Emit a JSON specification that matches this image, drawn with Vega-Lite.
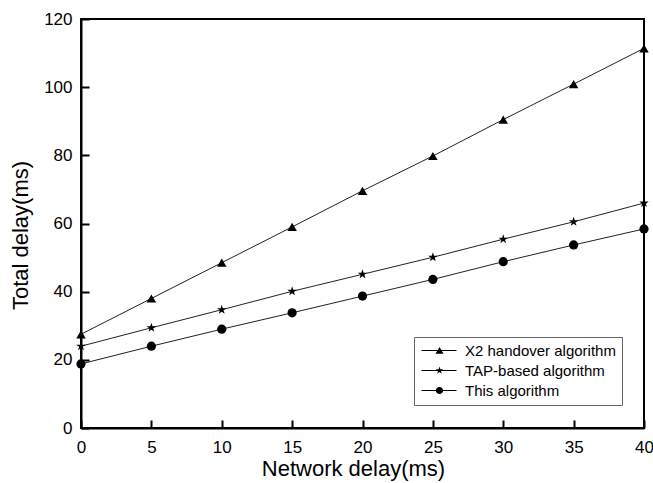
{
  "$schema": "https://vega.github.io/schema/vega-lite/v6.json",
  "width": 563,
  "height": 409,
  "autosize": "none",
  "padding": {"left": 81, "top": 19, "right": 9, "bottom": 55},
  "background": "white",
  "config": {
    "font": "Liberation Sans",
    "view": {"stroke": "black", "strokeWidth": 2},
    "axis": {"grid": false, "domainColor": "black", "domainWidth": 2, "tickColor": "black", "tickWidth": 2, "labelColor": "black", "titleColor": "black", "labelFont": "Liberation Sans", "titleFont": "Liberation Sans", "titleFontWeight": "normal"}
  },
  "data": {
    "values": [
      {"delay": 0, "total": 27.5, "series": "X2 handover algorithm"},
      {"delay": 5, "total": 38, "series": "X2 handover algorithm"},
      {"delay": 10, "total": 48.5, "series": "X2 handover algorithm"},
      {"delay": 15, "total": 59, "series": "X2 handover algorithm"},
      {"delay": 20, "total": 69.6, "series": "X2 handover algorithm"},
      {"delay": 25, "total": 79.8, "series": "X2 handover algorithm"},
      {"delay": 30, "total": 90.5, "series": "X2 handover algorithm"},
      {"delay": 35, "total": 100.9, "series": "X2 handover algorithm"},
      {"delay": 40, "total": 111.4, "series": "X2 handover algorithm"},
      {"delay": 0, "total": 24, "series": "TAP-based algorithm"},
      {"delay": 5, "total": 29.4, "series": "TAP-based algorithm"},
      {"delay": 10, "total": 34.7, "series": "TAP-based algorithm"},
      {"delay": 15, "total": 40.1, "series": "TAP-based algorithm"},
      {"delay": 20, "total": 45.1, "series": "TAP-based algorithm"},
      {"delay": 25, "total": 50.1, "series": "TAP-based algorithm"},
      {"delay": 30, "total": 55.4, "series": "TAP-based algorithm"},
      {"delay": 35, "total": 60.5, "series": "TAP-based algorithm"},
      {"delay": 40, "total": 66, "series": "TAP-based algorithm"},
      {"delay": 0, "total": 18.8, "series": "This algorithm"},
      {"delay": 5, "total": 24, "series": "This algorithm"},
      {"delay": 10, "total": 29, "series": "This algorithm"},
      {"delay": 15, "total": 33.8, "series": "This algorithm"},
      {"delay": 20, "total": 38.7, "series": "This algorithm"},
      {"delay": 25, "total": 43.6, "series": "This algorithm"},
      {"delay": 30, "total": 48.8, "series": "This algorithm"},
      {"delay": 35, "total": 53.7, "series": "This algorithm"},
      {"delay": 40, "total": 58.4, "series": "This algorithm"}
    ]
  },
  "encoding": {
    "x": {
      "field": "delay", "type": "quantitative",
      "scale": {"domain": [0, 40], "nice": false},
      "axis": {"title": "Network delay(ms)", "values": [0, 5, 10, 15, 20, 25, 30, 35, 40], "tickSize": -8, "labelPadding": 19, "labelFontSize": 17, "titleFontSize": 22, "titleX": 272, "titleY": 47, "titleBaseline": "alphabetic", "titleAlign": "center", "labelFlush": false}
    },
    "y": {
      "field": "total", "type": "quantitative",
      "scale": {"domain": [0, 120], "nice": false},
      "axis": {"title": "Total delay(ms)", "values": [0, 20, 40, 60, 80, 100, 120], "tickSize": -8, "labelPadding": 17, "labelFontSize": 17, "titleFontSize": 22, "titleAngle": -90, "titleX": -54, "titleY": 216, "titleBaseline": "alphabetic", "titleAlign": "center", "labelFlush": false}
    }
  },
  "layer": [
    {
      "mark": {"type": "line", "stroke": "#222222", "strokeWidth": 1, "clip": false},
      "encoding": {"detail": {"field": "series"}}
    },
    {
      "transform": [{"filter": "datum.series === 'X2 handover algorithm'"}],
      "mark": {"type": "point", "shape": "triangle-up", "filled": true, "color": "black", "opacity": 1, "size": 90, "clip": false}
    },
    {
      "transform": [{"filter": "datum.series === 'TAP-based algorithm'"}],
      "mark": {"type": "point", "shape": "M0,-1.05L0.236,-0.324L0.999,-0.324L0.381,0.124L0.617,0.849L0,0.401L-0.617,0.849L-0.381,0.124L-0.999,-0.324L-0.236,-0.324Z", "filled": true, "color": "black", "opacity": 1, "size": 90, "clip": false}
    },
    {
      "transform": [{"filter": "datum.series === 'This algorithm'"}],
      "mark": {"type": "point", "shape": "circle", "filled": true, "color": "black", "opacity": 1, "size": 85, "clip": false}
    },
    {
      "mark": {"type": "point", "filled": true, "fill": "black", "stroke": "black", "strokeWidth": 1, "opacity": 0, "size": 64, "clip": false},
      "encoding": {
        "shape": {
          "field": "series", "type": "nominal",
          "scale": {
            "domain": ["X2 handover algorithm", "TAP-based algorithm", "This algorithm"],
            "range": [
              "M-1.5,-0.12H7.25V0.12H-1.5ZM3,-0.9L4,0.8L2,0.8Z",
              "M-1.5,-0.12H7.25V0.12H-1.5ZM3,-1L3.225,-0.309L3.951,-0.309L3.363,0.118L3.588,0.809L3,0.382L2.412,0.809L2.637,0.118L2.049,-0.309L2.775,-0.309Z",
              "M-1.5,-0.12H7.25V0.12H-1.5ZM2.1,0A0.9,0.9,0,1,1,3.9,0A0.9,0.9,0,1,1,2.1,0Z"
            ]
          },
          "legend": {
            "title": null,
            "orient": "none",
            "legendX": 333,
            "legendY": 318,
            "strokeColor": "#666666",
            "fillColor": "white",
            "padding": 6,
            "rowPadding": 4,
            "symbolSize": 64,
            "symbolOpacity": 1,
            "symbolFillColor": "black",
            "symbolStrokeColor": "black",
            "symbolStrokeWidth": 1,
            "labelFontSize": 15,
            "labelColor": "black",
            "labelOffset": 30,
            "labelLimit": 300
          }
        }
      }
    }
  ]
}
